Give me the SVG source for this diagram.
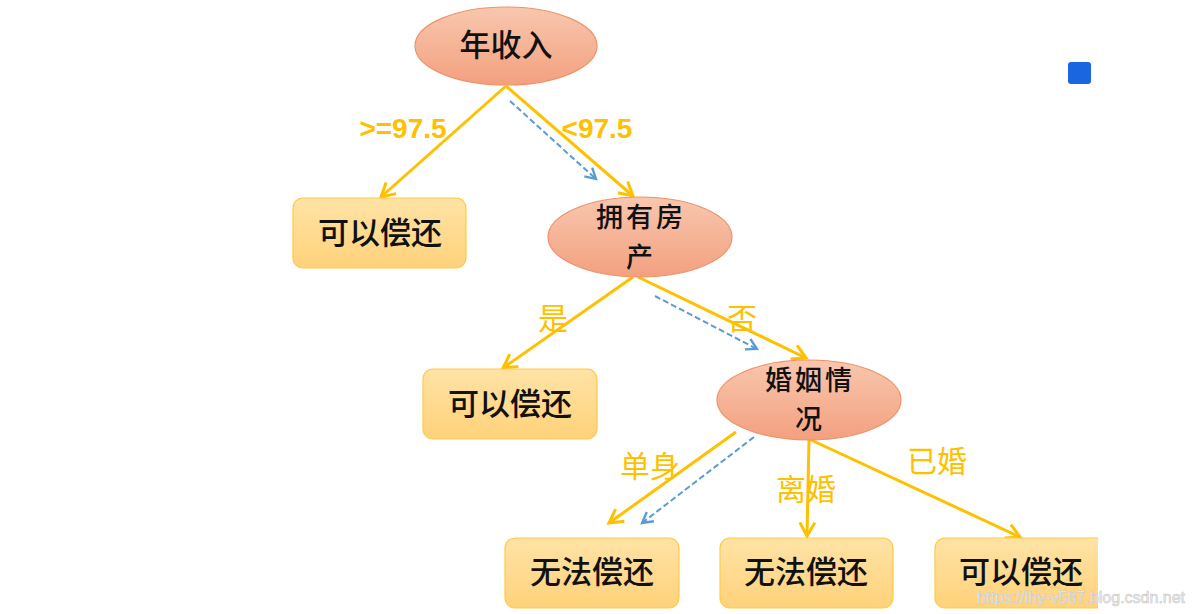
<svg xmlns="http://www.w3.org/2000/svg" width="1197" height="614" viewBox="0 0 1197 614">
<defs>
<linearGradient id="eg" x1="0" y1="0" x2="0" y2="1">
<stop offset="0" stop-color="#F8C7AE"/>
<stop offset="1" stop-color="#F3A07F"/>
</linearGradient>
<linearGradient id="bg" x1="0" y1="0" x2="0" y2="1">
<stop offset="0" stop-color="#FFE3A6"/>
<stop offset="1" stop-color="#FFD27A"/>
</linearGradient>
<marker id="ay" viewBox="0 0 12 12" refX="10" refY="6" markerWidth="6" markerHeight="6" markerUnits="strokeWidth" orient="auto">
<path d="M1,1 L10,6 L1,11" fill="none" stroke="#FFC000" stroke-width="2"/>
</marker>
<marker id="ab" viewBox="0 0 12 12" refX="10" refY="6" markerWidth="7" markerHeight="7" markerUnits="strokeWidth" orient="auto">
<path d="M1,1 L10,6 L1,11" fill="none" stroke="#5B9BD5" stroke-width="2"/>
</marker>
<clipPath id="cp"><rect x="0" y="0" width="1098" height="614"/></clipPath>
</defs>
<style>
.el{fill:url(#eg);stroke:#EE9268;stroke-width:1.2}
.bx{fill:url(#bg);stroke:#FFCB45;stroke-width:1.2}
.t{font-family:"Noto Sans CJK SC","Liberation Sans",sans-serif;font-size:31px;font-weight:500;fill:#111;text-anchor:middle}
.t2{font-family:"Noto Sans CJK SC","Liberation Sans",sans-serif;font-size:27px;letter-spacing:3px;font-weight:500;fill:#111;text-anchor:middle}
.y{stroke:#FFC000;stroke-width:3;fill:none;marker-end:url(#ay)}
.b{stroke:#5B9BD5;stroke-width:2;stroke-dasharray:6 3;fill:none;marker-end:url(#ab)}
.lb{font-family:"Noto Sans CJK SC","Liberation Sans",sans-serif;font-size:30px;fill:#FFC000;text-anchor:middle;dominant-baseline:central}
.lbn{font-family:"Liberation Sans",sans-serif;font-weight:bold;font-size:28px;fill:#FFC000;text-anchor:middle;dominant-baseline:central}
</style>
<rect width="1197" height="614" fill="#fff"/>
<g clip-path="url(#cp)">
<g id="connectors">
<line class="y" x1="506" y1="86" x2="381" y2="197"/>
<line class="y" x1="506" y1="86" x2="633" y2="196"/>
<line class="b" x1="510" y1="101" x2="596" y2="179"/>
<line class="y" x1="633" y1="277" x2="503" y2="368"/>
<line class="y" x1="638" y1="277" x2="806" y2="358"/>
<line class="b" x1="655" y1="296" x2="757" y2="349"/>
<line class="y" x1="736" y1="432" x2="609" y2="523"/>
<line class="b" x1="754" y1="437" x2="642" y2="523"/>
<line class="y" x1="809" y1="439" x2="807" y2="536"/>
<line class="y" x1="809" y1="439" x2="1020" y2="537"/>
<text class="lbn" x="403" y="128">&gt;=97.5</text>
<text class="lbn" x="597" y="128">&lt;97.5</text>
<text class="lb" x="553" y="316">是</text>
<text class="lb" x="742" y="316">否</text>
<text class="lb" x="650" y="464">单身</text>
<text class="lb" x="806" y="487">离婚</text>
<text class="lb" x="937" y="459">已婚</text>
</g>
<g id="n-income"><ellipse class="el" cx="506" cy="46" rx="91" ry="39"/><text class="t" x="506" y="56">年收入</text></g>
<g id="n-house"><ellipse class="el" cx="640" cy="237" rx="92" ry="40"/><text class="t2" x="641" y="227">拥有房</text><text class="t2" x="641" y="267">产</text></g>
<g id="n-marriage"><ellipse class="el" cx="809" cy="400" rx="92" ry="40"/><text class="t2" x="810" y="390">婚姻情</text><text class="t2" x="810" y="429">况</text></g>
<g id="l-repay1"><rect class="bx" x="293" y="198" width="173" height="70" rx="10"/><text class="t" x="380" y="244">可以偿还</text></g>
<g id="l-repay2"><rect class="bx" x="423" y="369" width="174" height="70" rx="10"/><text class="t" x="510" y="415">可以偿还</text></g>
<g id="l-single"><rect class="bx" x="505" y="538" width="174" height="70" rx="10"/><text class="t" x="592" y="583">无法偿还</text></g>
<g id="l-divorced"><rect class="bx" x="720" y="538" width="173" height="70" rx="10"/><text class="t" x="806" y="583">无法偿还</text></g>
<g id="l-married"><rect class="bx" x="935" y="538" width="173" height="70" rx="10"/><text class="t" x="1021" y="583">可以偿还</text></g>
</g>
<rect x="1068" y="62" width="23" height="22" rx="3" fill="#1A66E0"/>
<text x="1081" y="603" font-family="Liberation Sans,sans-serif" font-size="16" fill="#f2f2f2" stroke="#c8c8c8" stroke-width="0.6" text-anchor="middle">https://lhy-v587.blog.csdn.net</text>
</svg>
